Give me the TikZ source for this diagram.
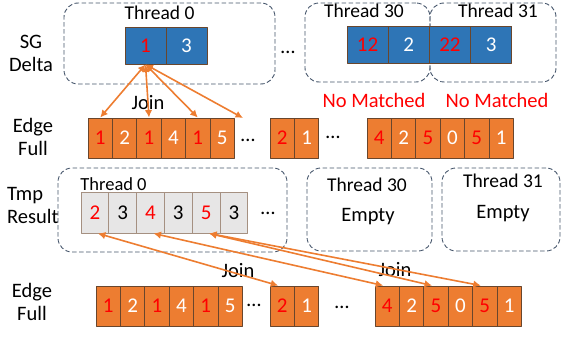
\documentclass[tikz,border=0pt]{standalone}
\usepackage{fontspec}
\setmainfont{Carlito}
\usetikzlibrary{arrows.meta}
\definecolor{cellblue}{RGB}{46,117,182}
\definecolor{cellorange}{RGB}{237,125,49}
\definecolor{cellgray}{RGB}{231,230,230}
\definecolor{celledge}{RGB}{105,70,45}
\definecolor{boxline}{RGB}{68,84,106}
\definecolor{numred}{RGB}{255,0,0}
\tikzset{
	cell/.style={draw=celledge, line width=0.9pt, inner sep=0pt, font=\fontsize{21}{21}\selectfont},
	ocell/.style={cell, fill=cellorange, minimum width=24.4pt, minimum height=40pt},
	bcell/.style={cell, fill=cellblue, minimum width=41pt, minimum height=37pt},
	gcell/.style={cell, fill=cellgray, draw=celledge!60, minimum width=27.8pt, minimum height=41pt},
	thrbox/.style={draw=boxline, dash pattern=on 4.5pt off 2.5pt, rounded corners=14pt, line width=0.9pt, inner sep=0pt},
	lbl/.style={font=\fontsize{20.5}{23}\selectfont, align=center, inner sep=0pt},
	thr/.style={font=\fontsize{19.5}{19.5}\selectfont, inner sep=0pt},
	joinarrow/.style={draw=cellorange, line width=1.6pt, {Latex[length=7.5pt,width=7.5pt]}-{Latex[length=7.5pt,width=7.5pt]}},
}
\begin{document}
\begin{tikzpicture}[x=1pt, y=-1pt, line join=round]
	\useasboundingbox (0,0) rectangle (563,337);
	
	%% SG Delta
	\node[thrbox, minimum width=211pt, minimum height=81pt] (box0) at (169.5,43.5) {};
	\node[thrbox, minimum width=125pt, minimum height=79pt] (box30) at (367.5,42.5) {};
	\node[thrbox, minimum width=126pt, minimum height=79pt] (box31) at (493,42.5) {};
	\node[thr] (th0) at (159.5,13) {Thread 0};
	\node[thr] (th30) at (364,11) {Thread 30};
	\node[thr] (th31) at (498,11) {Thread 31};
	\node[lbl] (sg) at (31,53) {SG\\Delta};
	\node[bcell, text=numred] (s1) at (145.5,45.5) {1};
	\node[bcell, text=white] (s2) at (186.5,45.5) {3};
	\foreach \v/\c [count=\i] in {12/numred,2/white,22/numred,3/white}
		\node[bcell, text=\c] (u\i) at ({347+20.5+41.2*(\i-1)},45) {\v};
	\node[lbl] (dots0) at (288,52) {…};
	\node[lbl, text=numred] (nm30) at (374,100) {No Matched};
	\node[lbl, text=numred] (nm31) at (497,100) {No Matched};
	
	%% Edge Full (top)
	\node[lbl] (ef1) at (33,137) {Edge\\Full};
	\foreach \v/\c [count=\i] in {1/numred,2/white,1/numred,4/white,1/numred,5/white}
		\node[ocell, text=\c] (ea\i) at ({88+12.2+24.4*(\i-1)},138) {\v};
	\foreach \v/\c [count=\i] in {2/numred,1/white}
		\node[ocell, text=\c] (eb\i) at ({270+12.2+24.4*(\i-1)},138) {\v};
	\foreach \v/\c [count=\i] in {4/numred,2/white,5/numred,0/white,5/numred,1/white}
		\node[ocell, text=\c] (ec\i) at ({367+12.2+24.4*(\i-1)},138) {\v};
	\node[lbl] (dots1) at (248,140) {…};
	\node[lbl] (dots2) at (333,137) {…};
	
	\node[lbl] (jtop) at (148,103) {Join};
	\coordinate (jfree) at (243,118);
	\foreach \t in {ea1,ea3,ea5,jfree}
		\draw[joinarrow] (s1.south) -- (\t.north);
	
	%% Tmp Result
	\node[thrbox, minimum width=229pt, minimum height=84pt] (tbox0) at (172.5,210) {};
	\node[thrbox, minimum width=125pt, minimum height=83pt] (tbox30) at (369.5,209.5) {};
	\node[thrbox, minimum width=118pt, minimum height=83pt] (tbox31) at (501,209.5) {};
	\node[thr, font=\fontsize{18.5}{18.5}\selectfont] (tth0) at (113.5,184) {Thread 0};
	\node[thr] (tth30) at (367,185) {Thread 30};
	\node[thr] (tth31) at (503,181) {Thread 31};
	\node[lbl] (emp30) at (368,217) {Empty};
	\node[lbl] (emp31) at (503,214) {Empty};
	\node[lbl, align=left, anchor=west] (tmp) at (7,205) {Tmp\\Result};
	\foreach \v/\c [count=\i] in {2/numred,3/black,4/numred,3/black,5/numred,3/black}
		\node[gcell, text=\c] (r\i) at ({81+13.9+27.8*(\i-1)},212.5) {\v};
	\node[lbl] (dots3) at (268,213) {…};
	
	%% Edge Full (bottom)
	\node[lbl] (ef2) at (32,302) {Edge\\Full};
	\foreach \v/\c [count=\i] in {1/numred,2/white,1/numred,4/white,1/numred,5/white}
		\node[ocell, text=\c] (fa\i) at ({96+12.2+24.4*(\i-1)},306) {\v};
	\foreach \v/\c [count=\i] in {2/numred,1/white}
		\node[ocell, text=\c] (fb\i) at ({270+12.2+24.4*(\i-1)},306) {\v};
	\foreach \v/\c [count=\i] in {4/numred,2/white,5/numred,0/white,5/numred,1/white}
		\node[ocell, text=\c] (fc\i) at ({375+12.2+24.4*(\i-1)},306) {\v};
	\node[lbl] (dots4) at (254,305) {…};
	\node[lbl] (dots5) at (342,307) {…};
	
	\node[lbl] (jb1) at (238,271) {Join};
	\node[lbl] (jb2) at (395,270) {Join};
	\draw[joinarrow] ([xshift=3pt]r1.south) -- ([xshift=-4pt]fb1.north);
	\draw[joinarrow] ([xshift=3pt]r3.south) -- ([xshift=-4pt]fc1.north);
	\draw[joinarrow] ([xshift=3pt]r5.south) -- ([xshift=-4pt]fc3.north);
	\draw[joinarrow] ([xshift=3pt]r5.south) -- ([xshift=-4pt]fc5.north);
\end{tikzpicture}
\end{document}
